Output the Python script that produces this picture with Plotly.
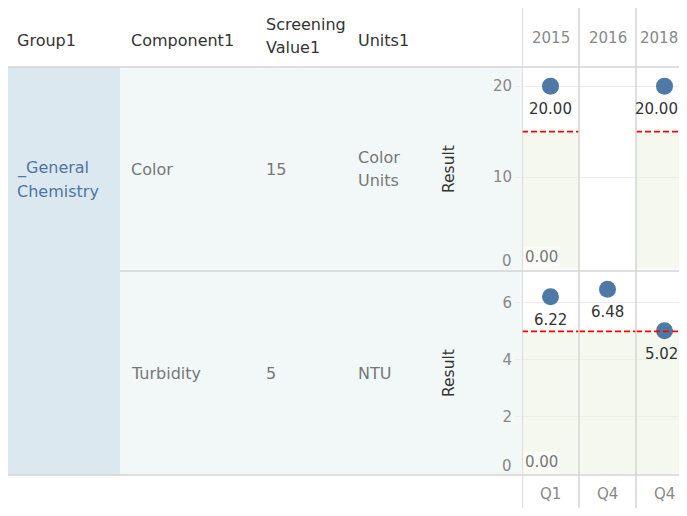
import plotly.graph_objects as go

# page body has an 8px margin, so the figure is drawn 8px in from the window edge
OFF = 8
WIN_W, WIN_H = 687, 516
W, H = WIN_W - OFF, WIN_H - 2 * OFF
VIS_RIGHT = WIN_W - OFF - 1  # last visible pixel column

years = ["2015", "2016", "2018"]
quarters = ["Q1", "Q4", "Q4"]
components = ["Color", "Turbidity"]
screening = [15, 5]
units = [["Color", "Units"], ["NTU"]]
group = ["_General", "Chemistry"]
color_result = [20.00, None, 20.00]
turbidity_result = [6.22, 6.48, 5.02]
band_low = 0.0

results = [color_result, turbidity_result]
y_ranges = [[-0.3, 22.1], [-0.04, 7.12]]
y_ticks = [[0, 10, 20], [0, 2, 4, 6]]

FONT = "DejaVu Sans"
BLUE = "#4e79a7"
LINE_H = 23


def px_x(v):
    # window pixel -> paper fraction
    return (v - OFF) / W


def px_y(v):
    return 1 - (v - OFF) / H


def multiline(lines, x, yc, **font):
    # one annotation per line so the line spacing can be set
    n = len(lines)
    for i, t in enumerate(lines):
        fig.add_annotation(xref="paper", yref="paper", x=px_x(x),
                           y=yc - (i - (n - 1) / 2) * LINE_H / H, text=t,
                           showarrow=False, xanchor="left", yanchor="middle",
                           font=dict(family=FONT, **font))


# pixel layout of the table (window coordinates)
top_hdr, row_split, bottom = 67, 271, 475
pane_left = 522
col_w = 57


def keep_inside(col, text, size=15):
    # nudge a centred label left if it would run past the visible edge
    w = sum(0.318 if c == "." else 0.64 for c in text) * size
    right = pane_left + (col + 0.5) * col_w + w / 2
    return min(0, VIS_RIGHT - right)


fig = go.Figure()

xs = list(range(len(years)))
for r, vals in enumerate(results):
    ax = "" if r == 0 else str(r + 1)
    px_, py_ = [x for x, v in zip(xs, vals) if v is not None], [v for v in vals if v is not None]
    fig.add_trace(go.Scatter(
        x=px_, y=py_, mode="markers",
        marker=dict(size=17, color=BLUE),
        xaxis="x" + ax, yaxis="y" + ax,
        showlegend=False, hoverinfo="skip",
    ))
    for x, v in zip(px_, py_):
        lbl = f"{v:.2f}"
        fig.add_annotation(xref="x" + ax, yref="y" + ax, x=x, y=v, text=lbl,
                           showarrow=False, yanchor="middle", yshift=-23,
                           xshift=keep_inside(x, lbl),
                           font=dict(family=FONT, size=15, color="#333"))
    # screening band + reference line for each column with data
    for x, v in zip(xs, vals):
        if v is None:
            continue
        fig.add_shape(type="rect", xref="x" + ax, yref="y" + ax,
                      x0=x - 0.5, x1=x + 0.5, y0=band_low, y1=screening[r],
                      fillcolor="#f5f8ee", line_width=0, layer="below")
        fig.add_shape(type="line", xref="x" + ax, yref="y" + ax,
                      x0=x - 0.5, x1=x + 0.5, y0=screening[r], y1=screening[r],
                      line=dict(color="#ff0000", width=1.6, dash="6px,3px"))
    fig.add_annotation(xref="x" + ax, yref="y" + ax, x=-0.5, y=band_low,
                       text=f"{band_low:.2f}", showarrow=False,
                       xanchor="left", yanchor="bottom", xshift=1, yshift=0.5,
                       bgcolor="rgba(255,255,255,0.55)",
                       font=dict(family=FONT, size=15, color="#777"))

x_range = [-0.5, 2.5 - (pane_left + 3 * col_w - WIN_W) / col_w]
row_dom = [
    [px_y(row_split), px_y(top_hdr)],
    [px_y(bottom), px_y(row_split)],
]
axis_common = dict(showline=False, zeroline=False)
for r in range(2):
    ax = "" if r == 0 else str(r + 1)
    fig.update_layout(**{
        "xaxis" + ax: dict(domain=[px_x(pane_left), 1], range=x_range,
                           showticklabels=False, showgrid=False,
                           anchor="y" + ax, **axis_common),
        "yaxis" + ax: dict(domain=row_dom[r], range=y_ranges[r],
                           tickvals=y_ticks[r][1:], showgrid=True,
                           gridcolor="#ececec", gridwidth=1,
                           ticks="outside", ticklen=6, tickcolor="#ececec",
                           tickfont=dict(family=FONT, size=15, color="#888"),
                           anchor="x" + ax, **axis_common),
    })
    # the bottom tick label sits inside the pane, as in the original
    fig.add_annotation(xref="paper", yref="y" + ax, x=px_x(pane_left), y=y_ticks[r][0],
                       text=str(y_ticks[r][0]), showarrow=False, xanchor="right",
                       yanchor="bottom", xshift=-8, yshift=-3.5,
                       font=dict(family=FONT, size=15, color="#888"))
    fig.add_annotation(xref="paper", yref="paper", x=px_x(449),
                       y=sum(row_dom[r]) / 2, text="Result", textangle=-90,
                       showarrow=False, xanchor="center", yanchor="middle",
                       font=dict(family=FONT, size=15.5, color="#333"))

# column headers (years) and footer (quarters)
for x, yr, q in zip(xs, years, quarters):
    fig.add_annotation(xref="x", yref="paper", x=x, y=px_y(38), text=yr,
                       showarrow=False, yanchor="middle", xshift=keep_inside(x, yr),
                       font=dict(family=FONT, size=15, color="#888"))
    fig.add_annotation(xref="x2", yref="paper", x=x, y=px_y(494), text=q,
                       showarrow=False, yanchor="middle",
                       font=dict(family=FONT, size=15, color="#888"))

# table backgrounds
fig.add_shape(type="rect", xref="paper", yref="paper", x0=px_x(6), x1=px_x(120),
              y0=px_y(bottom), y1=px_y(top_hdr), fillcolor="#dce8ef",
              line_width=0, layer="below")
fig.add_shape(type="rect", xref="paper", yref="paper", x0=px_x(120),
              x1=px_x(pane_left), y0=px_y(bottom), y1=px_y(top_hdr),
              fillcolor="#f2f7f8", line_width=0, layer="below")

# separators
line_c = "#d4d4d4"
for y, x0 in [(top_hdr, 6), (row_split, 120), (bottom, 6)]:
    fig.add_shape(type="line", xref="paper", yref="paper", x0=px_x(x0), x1=1,
                  y0=px_y(y), y1=px_y(y), line=dict(color=line_c, width=1.5))
for x in [-0.5, 0.5, 1.5]:
    fig.add_shape(type="line", xref="x", yref="paper", x0=x, x1=x, y0=0, y1=1,
                  line=dict(color=line_c, width=1.5))

# header row
hdr_font = dict(size=16, color="#333")
multiline(["Group1"], 15, px_y(40), **hdr_font)
multiline(["Component1"], 129, px_y(40), **hdr_font)
multiline(["Screening", "Value1"], 264, px_y(36), **hdr_font)
multiline(["Units1"], 356, px_y(40), **hdr_font)

# row labels
multiline(group, 15, px_y(180), size=16, color="#4f76a3")
body_font = dict(size=16, color="#777")
for r in range(2):
    yc = sum(row_dom[r]) / 2
    multiline([components[r]], 129, yc, **body_font)
    multiline([str(screening[r])], 264, yc, **body_font)
    multiline(units[r], 356, yc, **body_font)

fig.update_layout(
    width=W, height=H,
    margin=dict(l=0, r=0, t=0, b=0, autoexpand=False),
    paper_bgcolor="white",
    plot_bgcolor="rgba(0,0,0,0)",
)

fig.write_html("out.html")
